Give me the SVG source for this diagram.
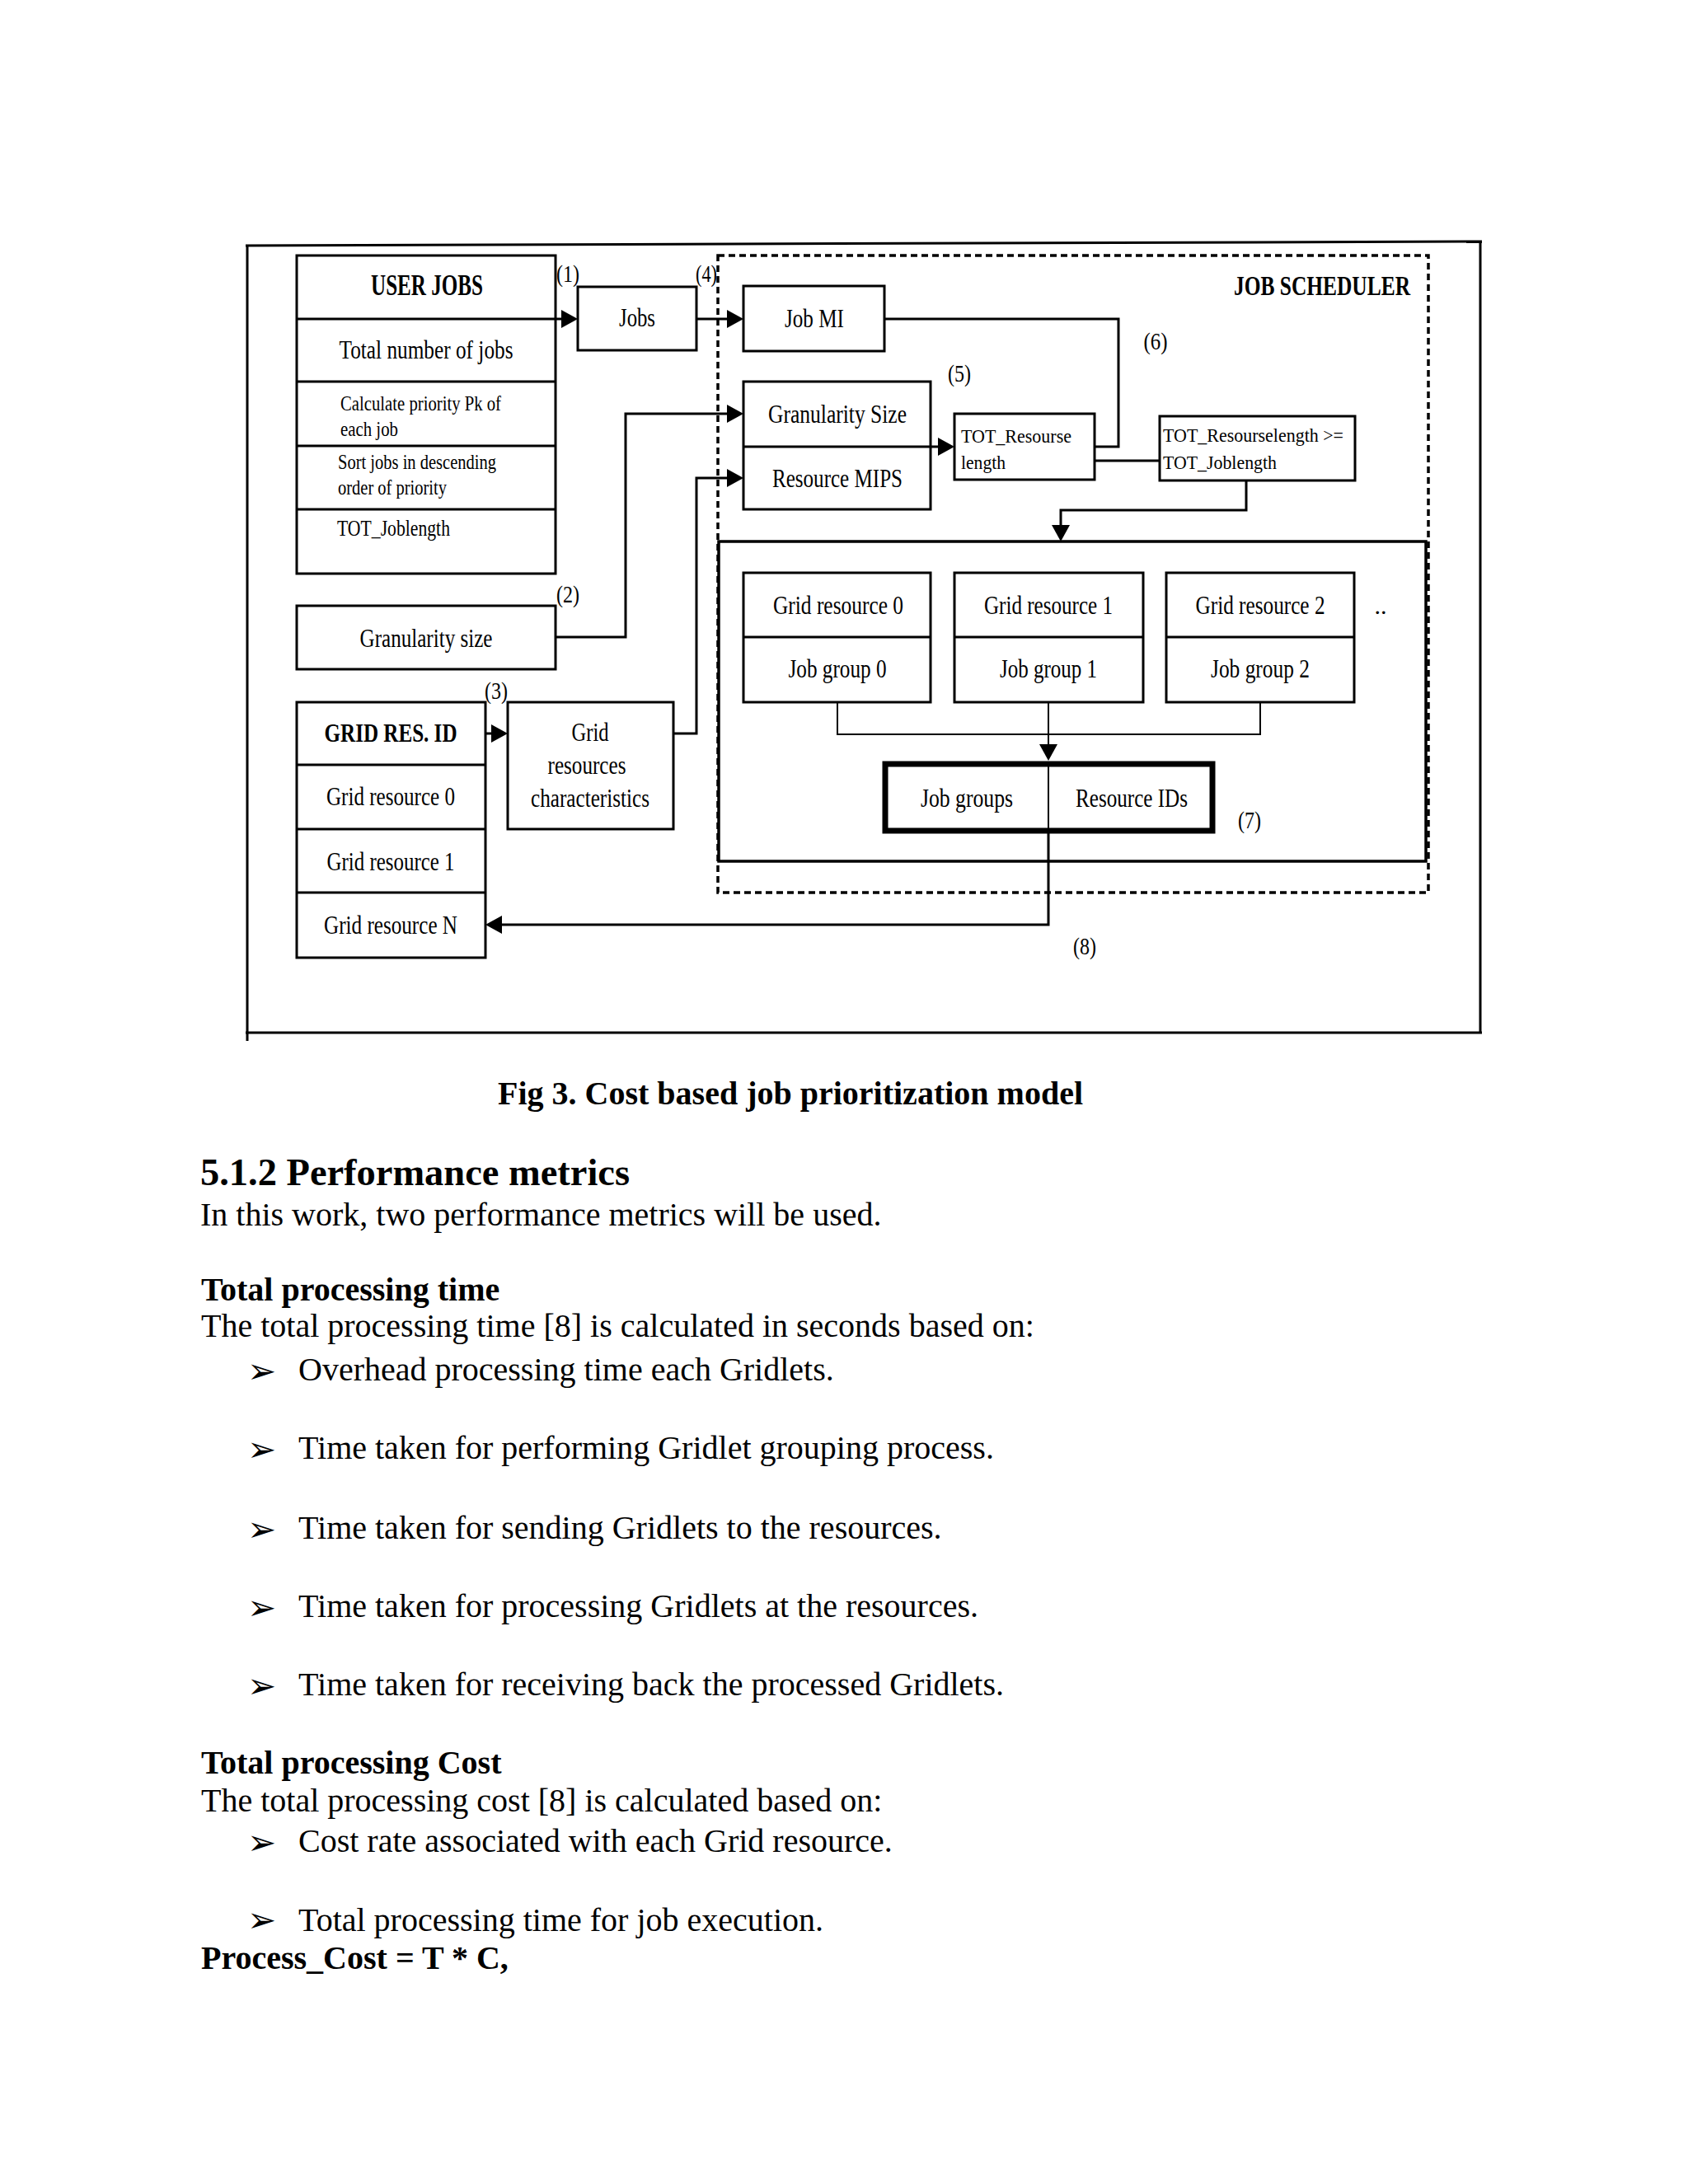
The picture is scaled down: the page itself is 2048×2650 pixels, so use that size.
<svg xmlns="http://www.w3.org/2000/svg" width="2048" height="2650" viewBox="0 0 2048 2650">
<style>
.box{fill:#fff;stroke:#000;stroke-width:3}
.sep{stroke:#000;stroke-width:3}
.ln{fill:none;stroke:#000;stroke-width:3}
.thin{fill:none;stroke:#000;stroke-width:2}
.t{font-family:"Liberation Serif","Times New Roman",serif;fill:#000}
.c{text-anchor:middle}
.b{font-weight:bold}
.lab{font-size:32px}
.sm{font-size:26px}
.num{font-size:30px}
.body{font-size:40px}
.bul{font-family:"DejaVu Sans",sans-serif;font-size:42px;fill:#000}
</style>
<defs>
<marker id="ah" markerUnits="userSpaceOnUse" markerWidth="20" markerHeight="22" refX="14" refY="11" orient="auto">
<path d="M0,0 L20,11 L0,22 Z" fill="#000"/>
</marker>
</defs>
<rect x="0" y="0" width="2048" height="2650" fill="#fff"/>

<g id="frame" class="ln">
<line x1="298" y1="298" x2="1798" y2="293"/>
<line x1="300" y1="297" x2="300" y2="1263"/>
<line x1="1796" y1="292" x2="1796" y2="1254"/>
<line x1="298" y1="1253" x2="1798" y2="1253"/>
</g>

<g id="job_scheduler">
<rect x="871" y="310" width="862" height="773" fill="none" stroke="#000" stroke-width="3.5" stroke-dasharray="8 5"/>
<text class="t b c" x="1604" y="358" font-size="33" textLength="214" lengthAdjust="spacingAndGlyphs">JOB SCHEDULER</text>
</g>

<g id="grouping_area">
<rect x="872" y="657" width="858" height="388" fill="none" stroke="#000" stroke-width="3.5"/>
<text class="t c num" x="1675" y="745">..</text>
</g>

<g id="user_jobs">
<rect class="box" x="360" y="310" width="314" height="386"/>
<line class="sep" x1="360" y1="387" x2="674" y2="387"/>
<line class="sep" x1="360" y1="463" x2="674" y2="463"/>
<line class="sep" x1="360" y1="541" x2="674" y2="541"/>
<line class="sep" x1="360" y1="618" x2="674" y2="618"/>
<text class="t b c" x="518" y="358" font-size="35" textLength="136" lengthAdjust="spacingAndGlyphs">USER JOBS</text>
<text class="t c lab" x="517" y="435" font-size="33" textLength="211" lengthAdjust="spacingAndGlyphs">Total number of jobs</text>
<text class="t sm" x="413" y="498" textLength="195" lengthAdjust="spacingAndGlyphs">Calculate priority Pk of</text>
<text class="t sm" x="413" y="529" textLength="70" lengthAdjust="spacingAndGlyphs">each job</text>
<text class="t sm" x="410" y="569" textLength="192" lengthAdjust="spacingAndGlyphs">Sort jobs in descending</text>
<text class="t sm" x="410" y="600" textLength="132" lengthAdjust="spacingAndGlyphs">order of priority</text>
<text class="t" x="409" y="650" font-size="28" textLength="137" lengthAdjust="spacingAndGlyphs">TOT_Joblength</text>
</g>

<g id="jobs">
<rect class="box" x="701" y="348" width="144" height="77"/>
<text class="t c lab" x="773" y="396" textLength="44" lengthAdjust="spacingAndGlyphs">Jobs</text>
</g>

<g id="job_mi">
<rect class="box" x="902" y="347" width="171" height="79"/>
<text class="t c lab" x="988" y="397" textLength="72" lengthAdjust="spacingAndGlyphs">Job MI</text>
</g>

<g id="granularity_mips">
<rect class="box" x="902" y="463" width="227" height="155"/>
<line class="sep" x1="902" y1="542" x2="1129" y2="542"/>
<text class="t c lab" x="1016" y="513" textLength="168" lengthAdjust="spacingAndGlyphs">Granularity Size</text>
<text class="t c lab" x="1016" y="591" textLength="158" lengthAdjust="spacingAndGlyphs">Resource MIPS</text>
</g>

<g id="tot_resourse">
<rect class="box" x="1158" y="502" width="170" height="80"/>
<text class="t" x="1166" y="537" font-size="24" textLength="134" lengthAdjust="spacingAndGlyphs">TOT_Resourse</text>
<text class="t" x="1166" y="569" font-size="24" textLength="54" lengthAdjust="spacingAndGlyphs">length</text>
</g>

<g id="tot_compare">
<rect class="box" x="1407" y="505" width="237" height="78"/>
<text class="t" x="1411" y="536" font-size="24" textLength="219" lengthAdjust="spacingAndGlyphs">TOT_Resourselength &gt;=</text>
<text class="t" x="1411" y="569" font-size="24" textLength="138" lengthAdjust="spacingAndGlyphs">TOT_Joblength</text>
</g>

<g id="granularity_size">
<rect class="box" x="360" y="735" width="314" height="77"/>
<text class="t c lab" x="517" y="785" textLength="161" lengthAdjust="spacingAndGlyphs">Granularity size</text>
</g>

<g id="grid_res_id">
<rect class="box" x="360" y="852" width="229" height="310"/>
<line class="sep" x1="360" y1="928" x2="589" y2="928"/>
<line class="sep" x1="360" y1="1006" x2="589" y2="1006"/>
<line class="sep" x1="360" y1="1083" x2="589" y2="1083"/>
<text class="t b c" x="474" y="900" font-size="32" textLength="161" lengthAdjust="spacingAndGlyphs">GRID RES. ID</text>
<text class="t c lab" x="474" y="977" textLength="156" lengthAdjust="spacingAndGlyphs">Grid resource 0</text>
<text class="t c lab" x="474" y="1056" textLength="155" lengthAdjust="spacingAndGlyphs">Grid resource 1</text>
<text class="t c lab" x="474" y="1133" textLength="162" lengthAdjust="spacingAndGlyphs">Grid resource N</text>
</g>

<g id="grid_characteristics">
<rect class="box" x="616" y="852" width="201" height="154"/>
<text class="t c lab" x="716" y="899" textLength="45" lengthAdjust="spacingAndGlyphs">Grid</text>
<text class="t c lab" x="712" y="939" textLength="95" lengthAdjust="spacingAndGlyphs">resources</text>
<text class="t c lab" x="716" y="979" textLength="144" lengthAdjust="spacingAndGlyphs">characteristics</text>
</g>

<g id="grid_resource_0">
<rect class="box" x="902" y="695" width="227" height="157"/>
<line class="sep" x1="902" y1="773" x2="1129" y2="773"/>
<text class="t c lab" x="1017" y="745" textLength="158" lengthAdjust="spacingAndGlyphs">Grid resource 0</text>
<text class="t c lab" x="1016" y="822" textLength="119" lengthAdjust="spacingAndGlyphs">Job group 0</text>
</g>

<g id="grid_resource_1">
<rect class="box" x="1158" y="695" width="229" height="157"/>
<line class="sep" x1="1158" y1="773" x2="1387" y2="773"/>
<text class="t c lab" x="1272" y="745" textLength="156" lengthAdjust="spacingAndGlyphs">Grid resource 1</text>
<text class="t c lab" x="1272" y="822" textLength="118" lengthAdjust="spacingAndGlyphs">Job group 1</text>
</g>

<g id="grid_resource_2">
<rect class="box" x="1415" y="695" width="228" height="157"/>
<line class="sep" x1="1415" y1="773" x2="1643" y2="773"/>
<text class="t c lab" x="1529" y="745" textLength="157" lengthAdjust="spacingAndGlyphs">Grid resource 2</text>
<text class="t c lab" x="1529" y="822" textLength="120" lengthAdjust="spacingAndGlyphs">Job group 2</text>
</g>

<g id="job_groups_ids">
<rect x="1074" y="927" width="397" height="81" fill="#fff" stroke="#000" stroke-width="7"/>
<line x1="1272" y1="927" x2="1272" y2="1008" stroke="#000" stroke-width="2"/>
<text class="t c lab" x="1173" y="979" textLength="112" lengthAdjust="spacingAndGlyphs">Job groups</text>
<text class="t c lab" x="1373" y="979" textLength="136" lengthAdjust="spacingAndGlyphs">Resource IDs</text>
</g>

<g id="connectors">
<path class="ln" d="M674,387 H695" marker-end="url(#ah)"/>
<path class="ln" d="M845,387 H896" marker-end="url(#ah)"/>
<path class="ln" d="M674,773 H759 V502 H896" marker-end="url(#ah)"/>
<path class="ln" d="M817,890 H845 V580 H896" marker-end="url(#ah)"/>
<path class="ln" d="M589,890 H610" marker-end="url(#ah)"/>
<path class="ln" d="M1129,542 H1152" marker-end="url(#ah)"/>
<path class="ln" d="M1073,387 H1357 V542 H1328"/>
<path class="ln" d="M1328,559 H1407"/>
<path class="ln" d="M1512,583 V619 H1287 V651" marker-end="url(#ah)"/>
<path class="thin" d="M1016,852 V891 H1529 V852"/>
<path class="thin" d="M1272,852 V917" marker-end="url(#ah)"/>
<path class="ln" d="M1272,1011 V1122 H595" marker-end="url(#ah)"/>
<text class="t c num" x="689" y="342" textLength="28" lengthAdjust="spacingAndGlyphs">(1)</text>
<text class="t c num" x="689" y="731" textLength="28" lengthAdjust="spacingAndGlyphs">(2)</text>
<text class="t c num" x="602" y="848" textLength="28" lengthAdjust="spacingAndGlyphs">(3)</text>
<text class="t c num" x="857" y="342" textLength="26" lengthAdjust="spacingAndGlyphs">(4)</text>
<text class="t c num" x="1164" y="463" textLength="28" lengthAdjust="spacingAndGlyphs">(5)</text>
<text class="t c num" x="1402" y="424" textLength="29" lengthAdjust="spacingAndGlyphs">(6)</text>
<text class="t c num" x="1516" y="1005" textLength="28" lengthAdjust="spacingAndGlyphs">(7)</text>
<text class="t c num" x="1316" y="1158" textLength="28" lengthAdjust="spacingAndGlyphs">(8)</text>
</g>

<g id="text_body" class="t">
<text class="b c body" x="959" y="1340" textLength="710" lengthAdjust="spacingAndGlyphs">Fig 3. Cost based job prioritization model</text>
<text class="b" x="243" y="1438" font-size="46" textLength="521" lengthAdjust="spacingAndGlyphs">5.1.2 Performance metrics</text>
<text class="body" x="243" y="1487">In this work, two performance metrics will be used.</text>
<text class="b body" x="244" y="1578">Total processing time</text>
<text class="body" x="244" y="1622">The total processing time [8] is calculated in seconds based on:</text>
<text class="bul" x="300" y="1678">➢</text>
<text class="body" x="362" y="1675">Overhead processing time each Gridlets.</text>
<text class="bul" x="300" y="1773">➢</text>
<text class="body" x="362" y="1770">Time taken for performing Gridlet grouping process.</text>
<text class="bul" x="300" y="1870">➢</text>
<text class="body" x="362" y="1867">Time taken for sending Gridlets to the resources.</text>
<text class="bul" x="300" y="1965">➢</text>
<text class="body" x="362" y="1962">Time taken for processing Gridlets at the resources.</text>
<text class="bul" x="300" y="2060">➢</text>
<text class="body" x="362" y="2057">Time taken for receiving back the processed Gridlets.</text>
<text class="b body" x="244" y="2152">Total processing Cost</text>
<text class="body" x="244" y="2198">The total processing cost [8] is calculated based on:</text>
<text class="bul" x="300" y="2250">➢</text>
<text class="body" x="362" y="2247">Cost rate associated with each Grid resource.</text>
<text class="bul" x="300" y="2344">➢</text>
<text class="body" x="362" y="2343">Total processing time for job execution.</text>
<text class="b body" x="244" y="2389">Process_Cost = T * C,</text>
</g>
</svg>
